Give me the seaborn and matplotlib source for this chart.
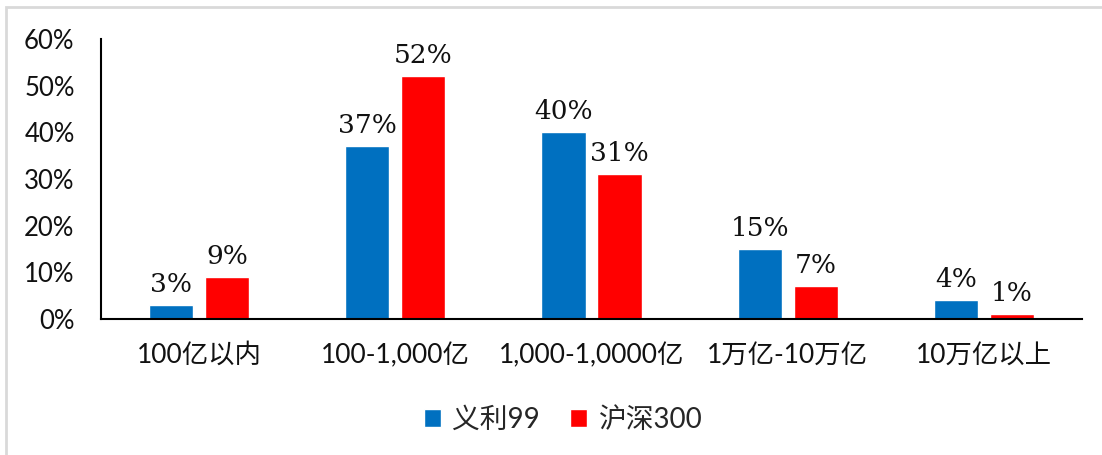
import matplotlib
matplotlib.use("Agg")
import matplotlib.pyplot as plt
import seaborn as sns
import pandas as pd
from matplotlib.patches import Rectangle

# Market-cap buckets and the share of constituents in each
categories = ["100亿以内", "100-1,000亿", "1,000-1,0000亿", "1万亿-10万亿", "10万亿以上"]
series_names = ["义利99", "沪深300"]
yili99 = [3, 37, 40, 15, 4]
hs300 = [9, 52, 31, 7, 1]
y_ticks = [0, 10, 20, 30, 40, 50, 60]
colors = ["#0070C0", "#FF0000"]

sns.set_theme(style="white")
plt.rcParams["font.family"] = ["Lato", "Noto Sans CJK SC", "DejaVu Sans"]

df = pd.DataFrame({
    "cat": categories * 2,
    "series": [series_names[0]] * len(categories) + [series_names[1]] * len(categories),
    "value": yili99 + hs300,
})

fig = plt.figure(figsize=(11.02, 4.55), dpi=100)
ax = fig.add_axes([101 / 1102, 1 - 319 / 455, (1082 - 101) / 1102, (319 - 39) / 455])

sns.barplot(data=df, x="cat", y="value", hue="series", order=categories,
            hue_order=series_names, palette=colors, width=0.57, gap=0.21,
            saturation=1, ax=ax, legend=True)

# value labels above each bar
for cont in ax.containers:
    ax.bar_label(cont, labels=[f"{v:.0f}%" for v in cont.datavalues], padding=6,
                 fontsize=19, family="DejaVu Serif", color="#111111")

ax.set_xlim(-0.5, len(categories) - 0.5)
ax.set_ylim(0, 60)
ax.set_yticks(y_ticks)
ax.set_yticklabels([f"{t}%" for t in y_ticks], fontsize=18.5, color="#111111")
ax.set_xticks(range(len(categories)))
ax.set_xticklabels(categories, fontsize=19, color="#111111")
ax.tick_params(axis="y", length=0, pad=19)
ax.tick_params(axis="x", length=0, pad=17)
ax.set_xlabel("")
ax.set_ylabel("")
for side in ["top", "right"]:
    ax.spines[side].set_visible(False)
for side in ["left", "bottom"]:
    ax.spines[side].set_color("black")
    ax.spines[side].set_linewidth(1.5)

handles, labels = ax.get_legend_handles_labels()
ax.legend_.remove()
fig.legend(handles, labels, loc="center", bbox_to_anchor=(563 / 1102, 1 - 420 / 455),
           ncol=2, frameon=False, fontsize=20, handlelength=0.62, handleheight=0.62,
           handletextpad=0.4, columnspacing=1.1)

# light frame along the top and left edges of the chart area
fig.add_artist(Rectangle((6 / 1102, -0.1), 1.2, 1 - 7 / 455 + 0.1, transform=fig.transFigure,
                         fill=False, edgecolor="#d9d9d9", linewidth=2))

fig.savefig("out.png", dpi=100)
